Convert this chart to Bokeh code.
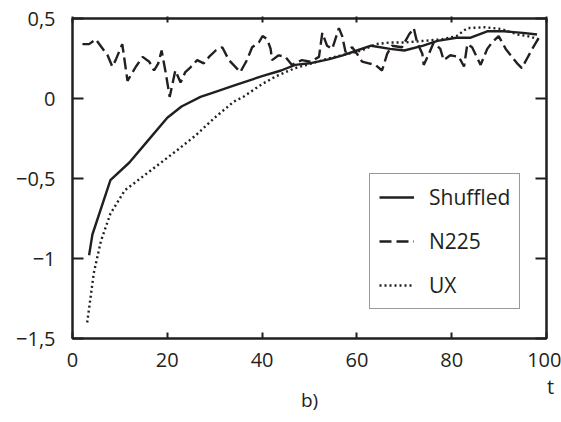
from bokeh.plotting import figure
from bokeh.models import (LinearAxis, FixedTicker, CustomJSTickFormatter, Legend,
                          LegendItem, Range1d, Label)
from bokeh.embed import file_html
from bokeh.resources import INLINE

# ---- data ----
t_shuffled = [3.5, 4.2, 8, 12, 16, 20, 23, 27, 30, 34, 40, 44, 47, 50, 54, 57, 60, 63, 67,
              70, 74, 77, 81, 84, 87.5, 91, 95, 98]
v_shuffled = [-0.98, -0.85, -0.51, -0.40, -0.26, -0.12, -0.05, 0.01, 0.04, 0.08, 0.14, 0.175,
              0.21, 0.22, 0.245, 0.27, 0.30, 0.33, 0.31, 0.30, 0.33, 0.36, 0.38, 0.38, 0.42,
              0.42, 0.41, 0.40]

t_ux = [3.1, 4.5, 6, 8, 11, 16.5, 22, 26, 30, 34, 36, 40, 43, 47, 54, 61, 64, 67, 70, 74, 78,
        81, 83.3, 87, 90.3, 94, 96, 98.4]
v_ux = [-1.40, -1.09, -0.89, -0.72, -0.575, -0.45, -0.325, -0.23, -0.12, -0.02, 0.01, 0.09,
        0.14, 0.19, 0.25, 0.30, 0.34, 0.35, 0.35, 0.36, 0.37, 0.39, 0.44, 0.445, 0.435, 0.40,
        0.39, 0.37]

t_n225 = [2.1, 3.5, 4.9, 7.4, 8.4, 9.1, 10.5, 11.6, 13.4, 14.8, 16.2, 17.2, 18.1, 18.8, 19.7,
          20.5, 21.7, 22.8, 23.8, 24.9, 26.3, 27.7, 28.8, 30.2, 31.6, 33, 35.4, 36.8, 37.9,
          39.3, 40.1, 41.1, 41.8, 42.1, 43.5, 44.9, 46.3, 48.4, 50.2, 52, 52.7, 53.7, 54.8,
          56.2, 56.9, 57.6, 59, 60, 61.1, 62.5, 63.9, 65.3, 66.4, 67.4, 69.5, 71, 72, 72.7,
          73.8, 74.1, 75.2, 76.2, 77.6, 78.3, 79.7, 81.5, 82.6, 83.3, 84.3, 86.1, 87.5, 88.5,
          89.9, 91.4, 92.7, 93.8, 94.8, 95.9, 97, 98.4]
v_n225 = [0.34, 0.34, 0.37, 0.27, 0.20, 0.24, 0.34, 0.11, 0.20, 0.26, 0.23, 0.175, 0.22, 0.30,
          0.155, 0.01, 0.175, 0.10, 0.165, 0.195, 0.24, 0.22, 0.26, 0.30, 0.32, 0.24, 0.165,
          0.24, 0.32, 0.35, 0.39, 0.37, 0.31, 0.24, 0.27, 0.26, 0.21, 0.24, 0.23, 0.26, 0.41,
          0.33, 0.31, 0.44, 0.39, 0.29, 0.32, 0.28, 0.23, 0.22, 0.21, 0.175, 0.28, 0.33, 0.32,
          0.40, 0.44, 0.35, 0.28, 0.21, 0.28, 0.35, 0.31, 0.24, 0.27, 0.26, 0.20, 0.34, 0.32,
          0.21, 0.31, 0.35, 0.39, 0.31, 0.26, 0.22, 0.19, 0.25, 0.31, 0.38]

x_ticks = [0, 20, 40, 60, 80, 100]
y_ticks = [-1.5, -1, -0.5, 0, 0.5]
series_names = ["Shuffled", "N225", "UX"]
x_label = "t"
caption = "b)"

FONT = "Open Sans"
INK = "#231f20"

p = figure(frame_width=474, frame_height=320,
           x_range=Range1d(0, 100), y_range=Range1d(-1.5, 0.5),
           output_backend="svg", toolbar_location=None,
           min_border_left=72, min_border_right=15, min_border_top=18, min_border_bottom=84)
p.grid.visible = False
p.outline_line_color = INK
p.outline_line_width = 2
p.background_fill_color = "white"
p.border_fill_color = "white"

fmt = CustomJSTickFormatter(code="""
    var s = (Math.round(tick*10)/10).toString();
    return s.replace('.', ',').replace('-', '\u2212');
""")

def style_axis(ax, ticks, tick_in, show_labels=True):
    ax.ticker = FixedTicker(ticks=ticks)
    ax.axis_line_color = INK
    ax.axis_line_width = 2
    ax.major_tick_line_color = INK
    ax.major_tick_line_width = 2
    ax.major_tick_in = tick_in
    ax.major_tick_out = 0
    ax.minor_tick_line_color = None
    if show_labels:
        ax.major_label_text_font = FONT
        ax.major_label_text_font_size = "20px"
        ax.major_label_text_color = INK
    else:
        ax.major_label_text_color = None
        ax.major_label_text_font_size = "1px"
        ax.major_label_standoff = 0

xb = p.xaxis[0]
style_axis(xb, x_ticks, 6)
xb.major_label_standoff = 14
# caption "b)" under the axis
xb.axis_label = caption
xb.axis_label_text_font = FONT
xb.axis_label_text_font_size = "19px"
xb.axis_label_text_font_style = "normal"
xb.axis_label_text_color = INK
xb.axis_label_standoff = 17

yl = p.yaxis[0]
style_axis(yl, y_ticks, 11)
yl.formatter = fmt
yl.major_label_standoff = 17

xt = LinearAxis()
style_axis(xt, x_ticks, 4, show_labels=False)
xt.major_tick_out = 2
p.add_layout(xt, "above")

yr = LinearAxis()
style_axis(yr, y_ticks, 11, show_labels=False)
p.add_layout(yr, "right")

r1 = p.line(t_shuffled, v_shuffled, line_color=INK, line_width=2.4)
r2 = p.line(t_n225, v_n225, line_color=INK, line_width=2.4, line_dash="12 5")
r3 = p.line(t_ux, v_ux, line_color=INK, line_width=2.4, line_dash="2 3")

legend = Legend(items=[LegendItem(label=series_names[0], renderers=[r1]),
                       LegendItem(label=series_names[1], renderers=[r2]),
                       LegendItem(label=series_names[2], renderers=[r3])],
                location=(297, 29),
                label_text_font=FONT, label_text_font_size="21px", label_text_color=INK,
                glyph_width=35, glyph_height=26, label_height=26, label_standoff=15,
                spacing=16, padding=9, margin=0,
                border_line_color="#333333", border_line_width=1.5,
                background_fill_color="white", background_fill_alpha=1)
p.add_layout(legend, "center")

# axis name "t" beside the lower right corner (side panel, so it is not clipped)
t_lab = Label(x=4, y=-48, x_units="screen", y_units="screen", text=x_label,
              text_align="center", text_baseline="middle", text_font=FONT,
              text_font_size="20px", text_color=INK)
p.add_layout(t_lab, "right")

open("out.html", "w").write(file_html(p, INLINE))
